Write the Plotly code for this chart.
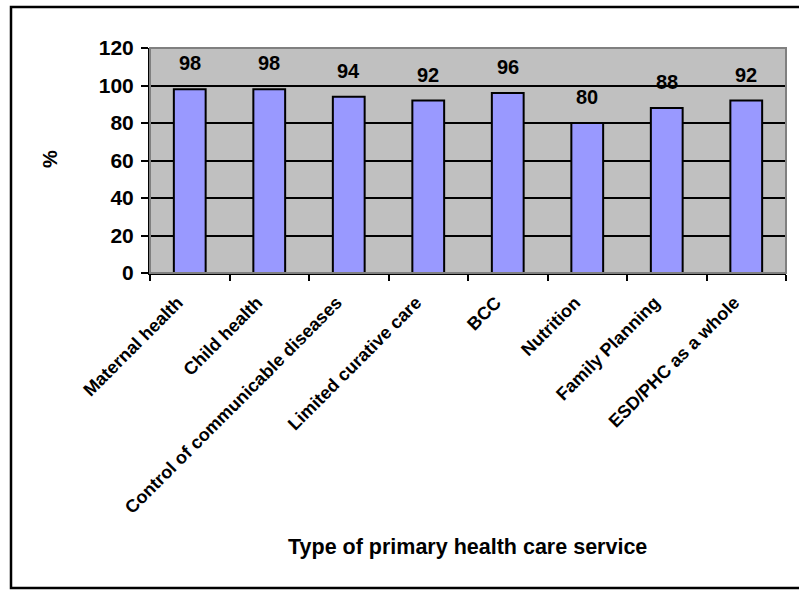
import plotly.graph_objects as go

categories = ["Maternal health", "Child health", "Control of communicable diseases",
              "Limited curative care", "BCC", "Nutrition", "Family Planning",
              "ESD/PHC as a whole"]
values = [98, 98, 94, 92, 96, 80, 88, 92]
y_ticks = [0, 20, 40, 60, 80, 100, 120]
x_title = "Type of primary health care service"
y_title = "%"

W, H = 799, 596
L, R, T, B = 150, 786, 48, 273
FONT = "Liberation Sans, Arial, sans-serif"

def px_x(x):
    return (x - L) / (R - L)

def px_y(y):
    return (B - y) / (B - T)

fig = go.Figure()
fig.add_trace(go.Bar(
    x=categories, y=values,
    marker=dict(color="#9999FF", line=dict(color="black", width=2)),
    width=0.4, showlegend=False, hoverinfo="x+y",
))

for c, v in zip(categories, values):
    fig.add_annotation(x=c, y=v, text=f"<b>{v}</b>", showarrow=False, yanchor="bottom",
                       yshift=13, font=dict(family=FONT, size=20, color="black"))

# axis titles
fig.add_annotation(xref="paper", yref="paper", x=px_x(467), y=px_y(547), text=f"<b>{x_title}</b>",
                   showarrow=False, xanchor="center", yanchor="middle",
                   font=dict(family=FONT, size=21.5, color="black"))
fig.add_annotation(xref="paper", yref="paper", x=px_x(50), y=px_y(159), text=f"<b>{y_title}</b>",
                   showarrow=False, xanchor="center", yanchor="middle", textangle=-90,
                   font=dict(family=FONT, size=20, color="black"))

# plot area border (gray top/right)
fig.add_shape(type="rect", xref="paper", yref="paper", x0=0, x1=1, y0=0, y1=1,
              line=dict(color="#808080", width=2), layer="above")
# outer chart border
fig.add_shape(type="rect", xref="paper", yref="paper",
              x0=px_x(11), x1=px_x(840), y0=px_y(588), y1=px_y(7),
              line=dict(color="black", width=2.5))

fig.update_layout(
    width=W, height=H,
    margin=dict(l=L, r=W - R, t=T, b=H - B),
    paper_bgcolor="white", plot_bgcolor="#C0C0C0",
    font=dict(family=FONT, color="black"),
    xaxis=dict(
        tickangle=-45, tickfont=dict(size=18, family=FONT, color="black"),
        tickvals=categories, ticktext=[f"<b>{c}</b>" for c in categories],
        ticks="outside", tickson="boundaries", ticklen=6, tickwidth=2, tickcolor="black",
        showline=True, linecolor="black", linewidth=2,
        showgrid=False, ticklabelstandoff=10, ticklabelshift=-12,
    ),
    yaxis=dict(
        range=[0, 120], tickvals=y_ticks, ticktext=[f"<b>{t}</b>" for t in y_ticks],
        tickfont=dict(size=21, family=FONT, color="black"),
        ticks="outside", ticklen=7, tickwidth=2, tickcolor="black",
        showline=True, linecolor="black", linewidth=2,
        showgrid=True, gridcolor="black", gridwidth=2,
        zeroline=False, ticklabelstandoff=3,
    ),
)

fig.write_html("out.html")
